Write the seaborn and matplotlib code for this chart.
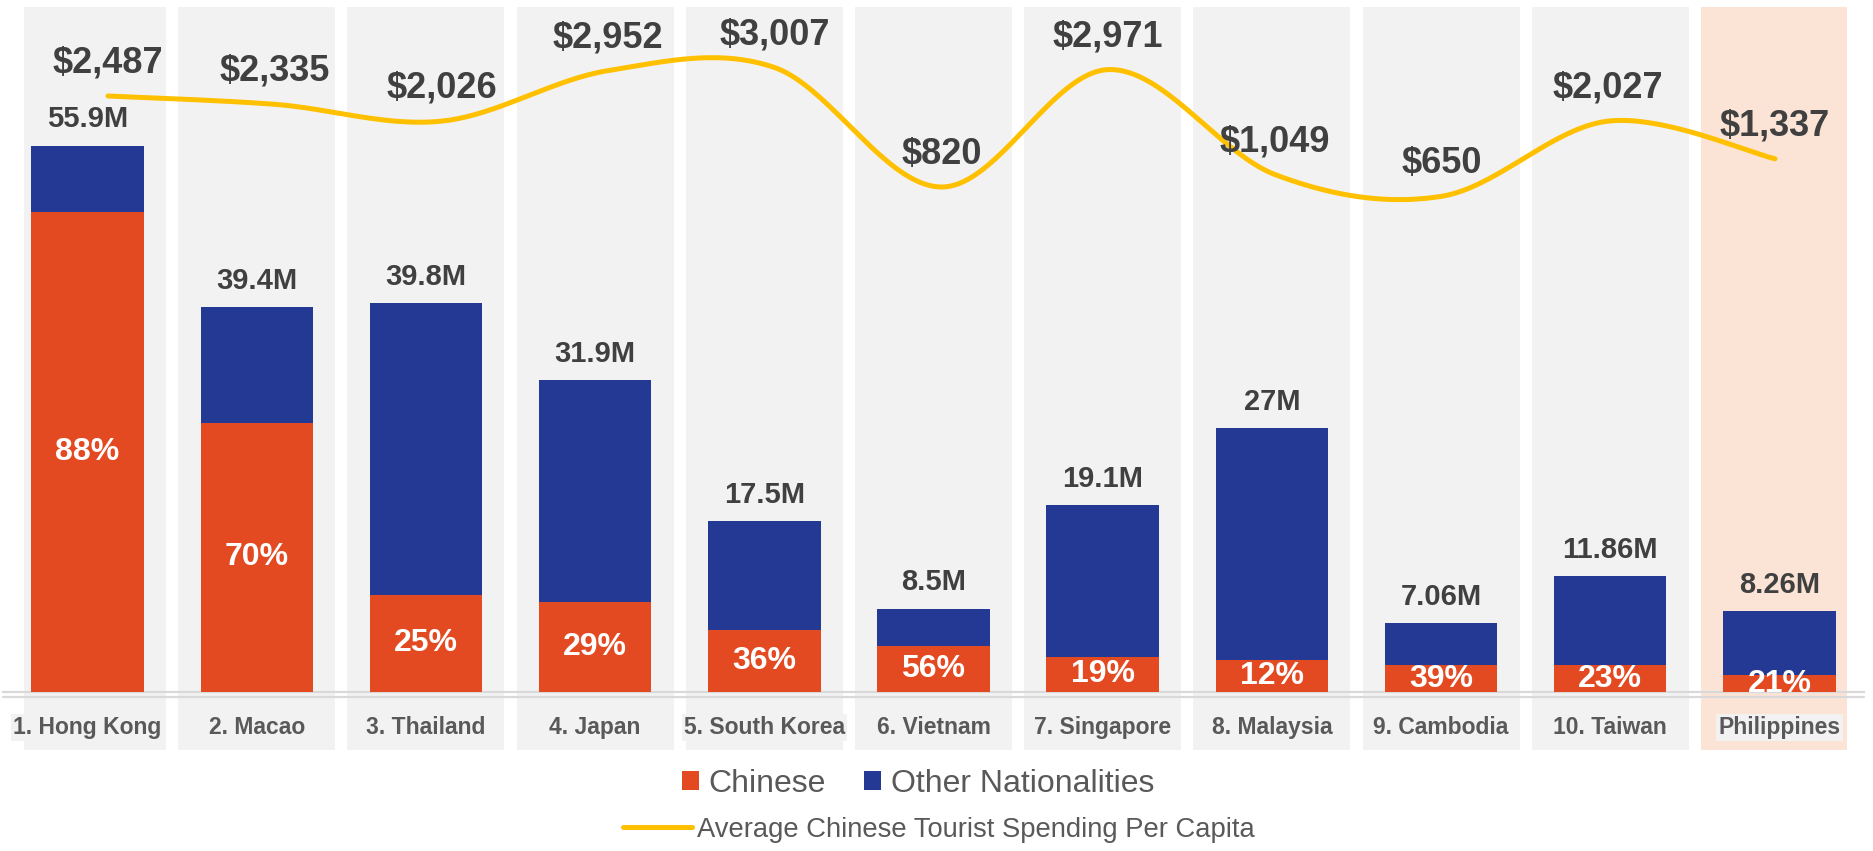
import numpy as np
import pandas as pd
import matplotlib
matplotlib.use("Agg")
import matplotlib.pyplot as plt
import matplotlib.transforms as mtransforms
from matplotlib import font_manager as fm
from matplotlib.patches import Rectangle, Patch
from matplotlib.lines import Line2D
import seaborn as sns

# ---- data -------------------------------------------------------------
countries = ["1. Hong Kong", "2. Macao", "3. Thailand", "4. Japan", "5. South Korea",
             "6. Vietnam", "7. Singapore", "8. Malaysia", "9. Cambodia", "10. Taiwan",
             "Philippines"]
total_visitors_m = [55.9, 39.4, 39.8, 31.9, 17.5, 8.5, 19.1, 27.0, 7.06, 11.86, 8.26]
total_labels = ["55.9M", "39.4M", "39.8M", "31.9M", "17.5M", "8.5M", "19.1M", "27M",
                "7.06M", "11.86M", "8.26M"]
chinese_share_pct = [88, 70, 25, 29, 36, 56, 19, 12, 39, 23, 21]
spend_per_capita_usd = [2487, 2335, 2026, 2952, 3007, 820, 2971, 1049, 650, 2027, 1337]

# ---- style ------------------------------------------------------------
ORANGE = "#E44A21"
BLUE = "#233993"
YELLOW = "#FFC000"
COL_BG = "#F2F2F2"
COL_HI = "#FBE4D5"
DARK = "#404040"
MID = "#595959"
AXIS = "#D9D9D9"

sns.set_theme(style="white")


def pick_family(candidates):
    for fam in candidates:
        try:
            fm.findfont(fm.FontProperties(family=fam), fallback_to_default=False)
            return fam
        except Exception:
            pass
    return "DejaVu Sans"


FONT = pick_family(["Liberation Sans", "DejaVu Sans"])
plt.rcParams["font.family"] = [FONT, "DejaVu Sans"]

df = pd.DataFrame({
    "country": countries,
    "total": total_visitors_m,
    "chinese": [t * p / 100 for t, p in zip(total_visitors_m, chinese_share_pct)],
})

W, H = 1874, 851
fig = plt.figure(figsize=(W / 100, H / 100), dpi=100, facecolor="white")
rect = [3 / W, (H - 692) / H, (1864 - 3) / W, (692 - 7) / H]
ax = fig.add_axes(rect)
ax.set_facecolor("white")

n = len(countries)

# background columns behind each country (last one highlighted)
col_tr = mtransforms.blended_transform_factory(ax.transData, ax.transAxes)
lo, hi = -0.376, n - 1 + 0.398
for i in range(n):
    x0 = max(i - 0.464, lo)
    x1 = min(i + 0.464, hi)
    ax.add_patch(Rectangle((x0, -0.085), x1 - x0, 1.085, transform=col_tr,
                           facecolor=COL_HI if i == n - 1 else COL_BG,
                           edgecolor="none", clip_on=False, zorder=0))

# stacked bars: total (other nationalities on top) and Chinese share
sns.barplot(data=df, x="country", y="total", color=BLUE, saturation=1, width=0.665,
            errorbar=None, linewidth=0, ax=ax, zorder=2)
sns.barplot(data=df, x="country", y="chinese", color=ORANGE, saturation=1, width=0.665,
            errorbar=None, linewidth=0, ax=ax, zorder=3)

ax.set_xlim(-0.5, n - 0.5)
ax.set_ylim(0, 70.13)

ax.bar_label(ax.containers[0], labels=total_labels, padding=9, fontsize=21,
             fontweight="bold", color=DARK)
ax.bar_label(ax.containers[1], labels=[f"{p}%" for p in chinese_share_pct],
             label_type="center", fontsize=23, fontweight="bold", color="white")

# axis cosmetics
for s in ["top", "right", "left"]:
    ax.spines[s].set_visible(False)
ax.spines["bottom"].set_color(AXIS)
ax.spines["bottom"].set_linewidth(1.6)
ax.set_yticks([])
ax.set_xlabel("")
ax.set_ylabel("")
ax.set_xticks(range(n))
ax.set_xticklabels(countries, fontsize=16.5, fontweight="bold", color=MID)
for lab in ax.get_xticklabels():
    lab.set_bbox(dict(facecolor=COL_BG, edgecolor="none", pad=1.5))
ax.tick_params(axis="x", which="major", length=0, pad=17)
ax.set_xticks(np.arange(-0.5, n, 1.0), minor=True)
ax.tick_params(axis="x", which="minor", length=6, width=1.6, color=AXIS)
under = mtransforms.offset_copy(ax.get_xaxis_transform(), fig=fig, x=0, y=-5, units="dots")
ax.plot([-0.5, n - 0.5], [0, 0], transform=under, color=AXIS, lw=1.6,
        clip_on=False, zorder=1)

# ---- spending line on its own overlay axes -----------------------------
ax2 = fig.add_axes(rect, facecolor="none")


def smooth_curve(xs, ys, steps=40):
    pts = np.column_stack([xs, ys]).astype(float)
    ext = np.vstack([pts[0], pts, pts[-1]])
    segs = []
    for i in range(1, len(ext) - 2):
        p0, p1, p2, p3 = ext[i - 1], ext[i], ext[i + 1], ext[i + 2]
        c1 = p1 + (p2 - p0) / 6.0
        c2 = p2 - (p3 - p1) / 6.0
        last = i == len(ext) - 3
        t = np.linspace(0, 1, steps, endpoint=last)[:, None]
        segs.append((1 - t) ** 3 * p1 + 3 * (1 - t) ** 2 * t * c1
                    + 3 * (1 - t) * t ** 2 * c2 + t ** 3 * p2)
    return np.vstack(segs)


idx = np.arange(n)
curve = smooth_curve(idx, spend_per_capita_usd)
sns.lineplot(x=curve[:, 0], y=curve[:, 1], sort=False, estimator=None, color=YELLOW,
             lw=3.6, ax=ax2, solid_capstyle="round")
for i, v in zip(idx, spend_per_capita_usd):
    ax2.annotate(f"${v:,}", (i, v), xytext=(0, 33), textcoords="offset pixels",
                 ha="center", va="center", fontsize=26, fontweight="bold", color=DARK)
ax2.set_xlim(-0.630, 10.534)
ax2.set_ylim(-8429, 4117)
ax2.axis("off")

# ---- legends -----------------------------------------------------------
leg1 = fig.legend(handles=[Patch(facecolor=ORANGE, edgecolor="none", label="Chinese"),
                           Patch(facecolor=BLUE, edgecolor="none", label="Other Nationalities")],
                  loc="center", bbox_to_anchor=(918 / W, (H - 784) / H), ncol=2,
                  frameon=False, prop={"size": 23}, labelcolor=MID,
                  handlelength=0.53, handleheight=0.55, handletextpad=0.3,
                  columnspacing=1.2, borderpad=0, borderaxespad=0)
leg2 = fig.legend(handles=[Line2D([], [], color=YELLOW, lw=3.6, solid_capstyle="round",
                                  label="Average Chinese Tourist Spending Per Capita")],
                  loc="center", bbox_to_anchor=(939 / W, (H - 830) / H),
                  frameon=False, prop={"size": 19.7}, labelcolor=MID,
                  handlelength=2.5, handletextpad=0.18, borderpad=0, borderaxespad=0)

fig.savefig("out.png", dpi=100, facecolor="white")
